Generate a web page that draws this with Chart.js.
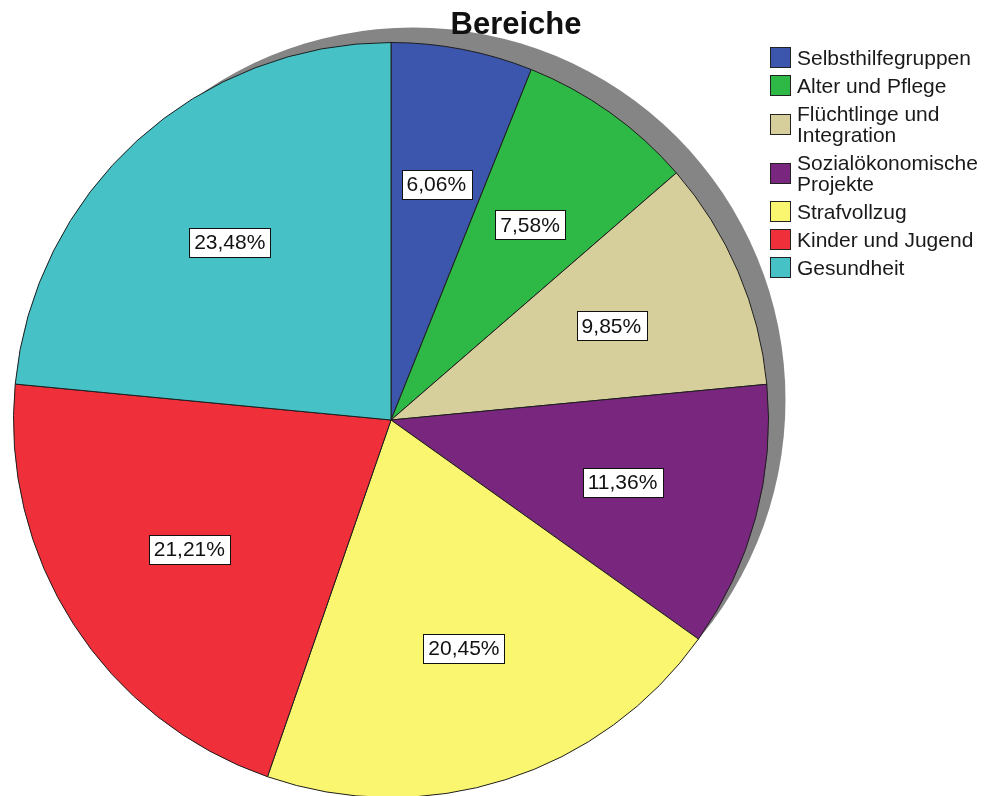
<!DOCTYPE html>
<html>
<head>
<meta charset="utf-8">
<script src="https://cdn.jsdelivr.net/npm/chart.js@4/dist/chart.umd.min.js"></script>
<style>
    html, body { margin: 0; padding: 0; background: #fff; overflow: hidden; width: 986px; height: 796px; }
    #chart { position: absolute; left: 0; top: 0; }
    #title {
        position: absolute; left: 0; top: 6px; width: 1032px; text-align: center;
        font: bold 31px "Liberation Sans", Arial, sans-serif; line-height: 36px; color: #111;
    }
    #legend { position: absolute; left: 770px; top: 47px; }
    .item { display: flex; align-items: center; margin-bottom: 7px; }
    .swatch { width: 21px; height: 21px; box-sizing: border-box; border: 1px solid #222; margin-right: 6px; flex: none; }
    .text { width: 189px; font: 21px "Liberation Sans", Arial, sans-serif; line-height: 21px; color: #1a1a1a; }
</style>
</head>
<body>
<canvas id="chart" width="986" height="820"></canvas>
<div id="title">Bereiche</div>
<div id="legend"></div>
<script>
document.addEventListener("DOMContentLoaded", function () {

    // categories and their shares (percent), clockwise from the top
    const categories = ["Selbsthilfegruppen", "Alter und Pflege", "Flüchtlinge und Integration",
        "Sozialökonomische Projekte", "Strafvollzug", "Kinder und Jugend", "Gesundheit"];
    const percentages = [6.06, 7.58, 9.85, 11.36, 20.45, 21.21, 23.48];
    const colors = ["#3d56ad", "#2eb845", "#d6cf9b", "#79267f", "#fbf66f", "#ef2f3a", "#46c1c6"];

    // legend
    const legend = document.getElementById("legend");
    categories.forEach((name, i) => {
        const item = document.createElement("div");
        item.className = "item";
        item.innerHTML = `<div class="swatch" style="background:${colors[i]}"></div><div class="text">${name}</div>`;
        legend.appendChild(item);
    });

    // grey shadow behind the pie
    const shadowPlugin = {
        id: "shadow",
        beforeDatasetsDraw(chart) {
            const arc = chart.getDatasetMeta(0).data[0];
            const ctx = chart.ctx;
            ctx.save();
            ctx.fillStyle = "#858585";
            ctx.beginPath();
            ctx.arc(arc.x + 22, arc.y - 20, arc.outerRadius - 5, 0, Math.PI * 2);
            ctx.fill();
            ctx.restore();
        }
    };

    // percent labels in white boxes
    const labelPlugin = {
        id: "boxLabels",
        afterDatasetsDraw(chart) {
            const ctx = chart.ctx;
            const values = chart.data.datasets[0].data;
            ctx.save();
            ctx.font = '21px "Liberation Sans", Arial, sans-serif';
            ctx.textAlign = "center";
            ctx.textBaseline = "middle";
            chart.getDatasetMeta(0).data.forEach((arc, i) => {
                const p = arc.getProps(["x", "y", "startAngle", "endAngle", "outerRadius"]);
                const mid = (p.startAngle + p.endAngle) / 2;
                const d = p.outerRadius * 0.635;
                const x = p.x + Math.cos(mid) * d;
                const y = p.y + Math.sin(mid) * d;
                const text = values[i].toFixed(2).replace(".", ",") + "%";
                const w = ctx.measureText(text).width + 10;
                const h = 29;
                ctx.fillStyle = "#fff";
                ctx.fillRect(Math.round(x - w / 2) + 0.5, Math.round(y - h / 2) + 0.5, Math.round(w), h);
                ctx.strokeStyle = "#111";
                ctx.lineWidth = 1;
                ctx.strokeRect(Math.round(x - w / 2) + 0.5, Math.round(y - h / 2) + 0.5, Math.round(w), h);
                ctx.fillStyle = "#111";
                ctx.fillText(text, x, y + 1);
            });
            ctx.restore();
        }
    };

    new Chart(document.getElementById("chart"), {
        type: "pie",
        data: {
            labels: categories,
            datasets: [{
                data: percentages,
                backgroundColor: colors,
                borderColor: "#1e1e1e",
                borderWidth: 1
            }]
        },
        options: {
            responsive: false,
            animation: false,
            layout: { padding: { left: 13, top: 42, right: 217, bottom: 22 } },
            plugins: {
                legend: { display: false },
                tooltip: { enabled: false }
            }
        },
        plugins: [shadowPlugin, labelPlugin]
    });

});
</script>
</body>
</html>
